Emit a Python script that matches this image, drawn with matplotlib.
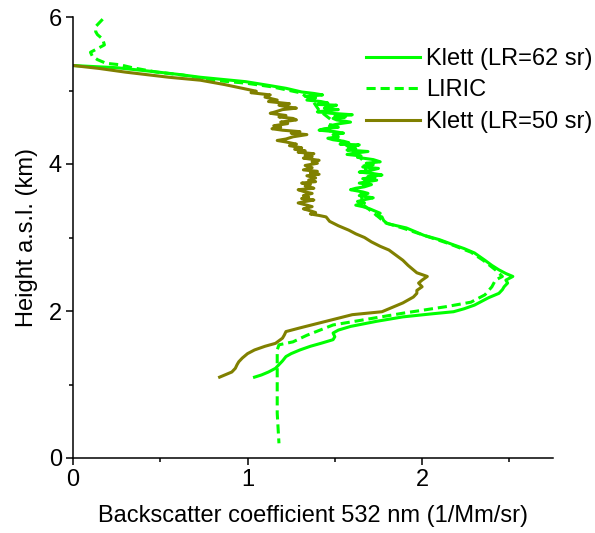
import numpy as np
import matplotlib
matplotlib.use('Agg')
import matplotlib.pyplot as plt

plt.rcParams['font.family'] = ['Liberation Sans', 'DejaVu Sans']

# Klett, lidar ratio 50 sr (olive)
klett50_h = [5.34, 5.30, 5.25, 5.18, 5.14, 5.08,
             5.05, 5.02, 4.99, 4.97, 4.94, 4.91, 4.87, 4.85, 4.82, 4.80, 4.78, 4.76, 4.74,
             4.71, 4.69, 4.66, 4.64, 4.62, 4.60, 4.57, 4.55, 4.52, 4.50, 4.48, 4.46, 4.44,
             4.42, 4.40, 4.37, 4.34, 4.32, 4.30, 4.27, 4.25, 4.22, 4.20, 4.18, 4.16, 4.14,
             4.12, 4.10, 4.08, 4.05, 4.03, 4.01, 3.98, 3.95, 3.92, 3.90, 3.88, 3.86, 3.84,
             3.81, 3.78, 3.76, 3.74, 3.72, 3.70, 3.67, 3.65, 3.62, 3.60, 3.57, 3.55, 3.53,
             3.51, 3.49, 3.47, 3.44, 3.42, 3.39, 3.37, 3.34, 3.32, 3.30, 3.28,
             3.22, 3.16, 3.10, 3.05, 3.00, 2.94, 2.88,
             2.83, 2.76, 2.69, 2.62, 2.56, 2.52, 2.47, 2.42, 2.38, 2.33, 2.28, 2.24, 2.19,
             2.11, 2.05, 1.99, 1.95, 1.89, 1.83, 1.77, 1.72, 1.67, 1.63, 1.56, 1.52, 1.47,
             1.42, 1.36, 1.31, 1.27, 1.22, 1.17, 1.13, 1.10]
klett50_x = [0.00, 0.15, 0.30, 0.55, 0.73, 0.87,
             0.93, 0.99, 1.05, 1.02, 1.13, 1.10, 1.17, 1.12, 1.24, 1.18, 1.22, 1.28, 1.20,
             1.16, 1.13, 1.22, 1.18, 1.26, 1.28, 1.19, 1.23, 1.15, 1.19, 1.14, 1.20, 1.30,
             1.25, 1.34, 1.26, 1.22, 1.17, 1.22, 1.28, 1.24, 1.31, 1.27, 1.33, 1.29, 1.38,
             1.33, 1.37, 1.32, 1.41, 1.37, 1.40, 1.33, 1.37, 1.32, 1.40, 1.36, 1.41, 1.34,
             1.39, 1.35, 1.39, 1.31, 1.36, 1.33, 1.38, 1.29, 1.33, 1.37, 1.32, 1.35, 1.31,
             1.38, 1.33, 1.29, 1.34, 1.37, 1.32, 1.35, 1.39, 1.36, 1.41, 1.45,
             1.47, 1.52, 1.58, 1.62, 1.67, 1.71, 1.76,
             1.81, 1.85, 1.89, 1.92, 1.95, 1.97, 2.03, 2.00, 1.98, 2.00, 1.97, 1.97, 1.95,
             1.89, 1.83, 1.77, 1.60, 1.50, 1.40, 1.30, 1.22, 1.21, 1.20, 1.16, 1.10, 1.04,
             1.00, 0.97, 0.95, 0.94, 0.93, 0.91, 0.87, 0.84]

# Klett, lidar ratio 62 sr (green solid)
klett62_h = [5.34, 5.31, 5.26, 5.22, 5.18, 5.12, 5.07, 5.03,
             4.98, 4.96, 4.94, 4.92, 4.90, 4.87, 4.85, 4.83, 4.81, 4.80, 4.78, 4.76, 4.74,
             4.71, 4.69, 4.67, 4.65, 4.64, 4.62, 4.60, 4.57, 4.55, 4.52, 4.50, 4.48, 4.46,
             4.44, 4.42, 4.40, 4.37, 4.35, 4.33, 4.31, 4.29, 4.27, 4.26, 4.23, 4.21, 4.19,
             4.17, 4.15, 4.13, 4.11, 4.09, 4.06, 4.03, 4.01, 3.99, 3.96, 3.94, 3.91, 3.89,
             3.87, 3.85, 3.83, 3.82, 3.80, 3.78, 3.76, 3.74, 3.72, 3.69, 3.67, 3.65, 3.62,
             3.60, 3.57, 3.54, 3.52, 3.49, 3.47, 3.44, 3.42, 3.39, 3.36, 3.33, 3.30, 3.28,
             3.23, 3.19, 3.13, 3.08,
             3.03, 2.97, 2.90, 2.85, 2.79, 2.74, 2.69, 2.62, 2.56, 2.51, 2.47, 2.42, 2.38,
             2.33, 2.29, 2.24, 2.18, 2.13, 2.08, 2.03, 1.99, 1.96, 1.92, 1.86, 1.79, 1.74,
             1.70, 1.65, 1.61, 1.56, 1.52, 1.47, 1.42, 1.38, 1.32, 1.27, 1.22, 1.17, 1.13, 1.10]
klett62_x = [0.00, 0.25, 0.45, 0.60, 0.73, 0.99, 1.12, 1.22,
             1.31, 1.38, 1.43, 1.33, 1.39, 1.34, 1.42, 1.46, 1.40, 1.51, 1.47, 1.44, 1.52,
             1.40, 1.48, 1.60, 1.50, 1.56, 1.49, 1.51, 1.59, 1.53, 1.47, 1.52, 1.44, 1.41,
             1.50, 1.55, 1.49, 1.52, 1.46, 1.49, 1.55, 1.58, 1.53, 1.64, 1.58, 1.62, 1.57,
             1.69, 1.62, 1.57, 1.65, 1.63, 1.72, 1.76, 1.68, 1.72, 1.66, 1.75, 1.70, 1.64,
             1.72, 1.77, 1.69, 1.73, 1.66, 1.74, 1.69, 1.64, 1.71, 1.67, 1.62, 1.59, 1.66,
             1.69, 1.64, 1.72, 1.68, 1.63, 1.67, 1.62, 1.66, 1.70, 1.73, 1.76, 1.74, 1.77,
             1.78, 1.80, 1.91, 1.96,
             2.01, 2.10, 2.18, 2.24, 2.30, 2.33, 2.36, 2.40, 2.44, 2.48, 2.52, 2.48, 2.49,
             2.47, 2.46, 2.44, 2.38, 2.34, 2.30, 2.24, 2.18, 2.05, 1.89, 1.74, 1.59, 1.52,
             1.49, 1.50, 1.49, 1.42, 1.36, 1.30, 1.25, 1.22, 1.20, 1.18, 1.16, 1.12, 1.08, 1.04]

# LIRIC retrieval (green dashed)
liric_h = [5.97, 5.92, 5.87, 5.80, 5.76, 5.70, 5.62, 5.57, 5.52, 5.47, 5.42, 5.37, 5.35,
           5.31, 5.25, 5.21, 5.14, 5.10, 5.05, 4.97, 4.87, 4.73, 4.60, 4.46, 4.33, 4.20,
           4.05, 3.90, 3.75, 3.60, 3.45, 3.30, 3.20, 3.12, 3.03, 2.92, 2.80, 2.69, 2.56,
           2.47, 2.42, 2.33, 2.22, 2.12, 2.06, 1.97, 1.89, 1.81, 1.67, 1.58, 1.54, 1.47,
           1.06, 0.61, 0.20]
liric_x = [0.17, 0.15, 0.13, 0.13, 0.14, 0.17, 0.18, 0.14, 0.10, 0.11, 0.14, 0.19, 0.27,
           0.34, 0.48, 0.63, 0.80, 0.99, 1.14, 1.30, 1.37, 1.41, 1.48, 1.47, 1.52, 1.60,
           1.66, 1.68, 1.67, 1.65, 1.66, 1.74, 1.79, 1.90, 2.01, 2.15, 2.28, 2.35, 2.42,
           2.46, 2.42, 2.40, 2.36, 2.28, 2.14, 1.89, 1.69, 1.49, 1.34, 1.26, 1.18, 1.17,
           1.17, 1.17, 1.18]

green = '#00ff00'
olive = '#808000'
fs = 17

fig = plt.figure(figsize=(5.95, 5.33), dpi=100)
ax = fig.add_axes([73/595, 1 - 458/533, 480/595, 441/533])

ax.plot(klett62_x, klett62_h, color=green, lw=2.2, label='Klett (LR=62 sr)')
ax.plot(liric_x, liric_h, color=green, lw=2.2, ls=(0, (3, 1.6)), label='LIRIC')
ax.plot(klett50_x, klett50_h, color=olive, lw=2.2, label='Klett (LR=50 sr)')

ax.set_xlim(0, 2.75)
ax.set_ylim(0, 6)
ax.set_xticks([0, 1, 2])
ax.set_xticks([0.5, 1.5, 2.5], minor=True)
ax.set_yticks([0, 2, 4, 6])
ax.set_yticks([1, 3, 5], minor=True)
for s in ['top', 'right']:
    ax.spines[s].set_visible(False)
for s in ['left', 'bottom']:
    ax.spines[s].set_linewidth(1.1)
ax.tick_params(which='major', length=5, width=1.1, labelsize=fs, pad=3)
ax.tick_params(which='minor', length=3, width=1.1)

ax.set_xlabel('Backscatter coefficient 532 nm (1/Mm/sr)', fontsize=fs, labelpad=10)
ax.set_ylabel('Height a.s.l. (km)', fontsize=fs, labelpad=8)

ax.legend(loc='upper left', bbox_to_anchor=(366/595, 1 - 48/533),
          bbox_transform=fig.transFigure, frameon=False, fontsize=fs,
          handlelength=2.3, handletextpad=0.25, labelspacing=0.4,
          borderpad=0, borderaxespad=0)

fig.savefig('out.png', dpi=100)
